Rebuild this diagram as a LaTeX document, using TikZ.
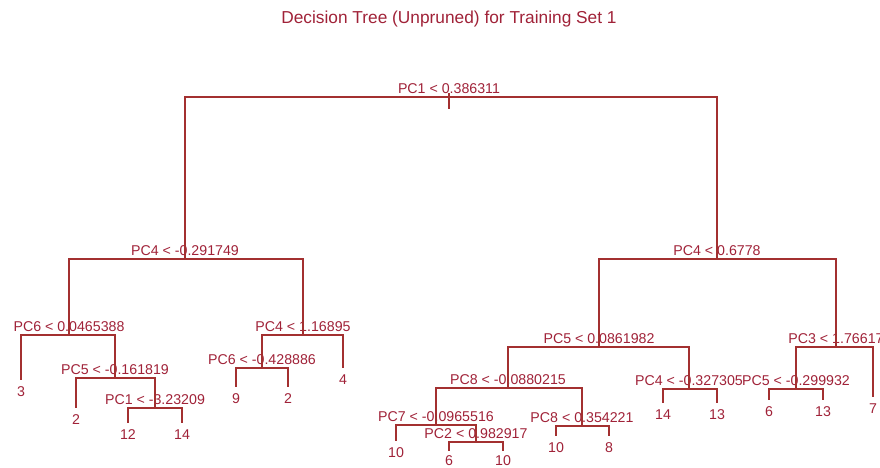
\documentclass[tikz,border=0pt]{standalone}
\usepackage{fontspec}
\setmainfont{Liberation Sans}
\definecolor{branch}{RGB}{163,48,48}
\definecolor{labelred}{RGB}{160,34,56}
\begin{document}
\begin{tikzpicture}[x=1pt,y=-1pt,
  edge/.style={draw=branch,line width=1.8pt},
  splitlabel/.style={text=labelred,font=\fontsize{14.2}{16}\selectfont,inner sep=0pt,anchor=base},
  leaflabel/.style={text=labelred,font=\fontsize{14.2}{16}\selectfont,inner sep=0pt,anchor=base},
  titlelabel/.style={text=labelred,font=\fontsize{17.3}{20}\selectfont,inner sep=0pt,anchor=base}]
\useasboundingbox (0,0) rectangle (880,468);

% title
\node[titlelabel] (title) at (449,24) {Decision Tree (Unpruned) for Training Set 1};

% split points (x of split, y of its horizontal bar)
\coordinate (R) at (449,97);
\coordinate (Rtop) at (449,93);
\coordinate (Rbot) at (449,109);
\coordinate (A) at (185,259);
\coordinate (B) at (69,335);
\coordinate (C) at (115,378);
\coordinate (D) at (155,408);
\coordinate (E) at (303,335);
\coordinate (F) at (262,368);
\coordinate (G) at (717,259);
\coordinate (H) at (599,347);
\coordinate (I) at (508,388);
\coordinate (J) at (436,425);
\coordinate (K) at (476,442);
\coordinate (L) at (582,426);
\coordinate (M) at (689,389);
\coordinate (N) at (836,347);
\coordinate (O) at (796,389);

% leaf ends
\coordinate (l1) at (21,380);
\coordinate (l2) at (76,408);
\coordinate (l3) at (128,423);
\coordinate (l4) at (182,423);
\coordinate (l5) at (236,387);
\coordinate (l6) at (288,387);
\coordinate (l7) at (343,368);
\coordinate (l8) at (396,441);
\coordinate (l9) at (449,451);
\coordinate (l10) at (503,451);
\coordinate (l11) at (556,436);
\coordinate (l12) at (609,436);
\coordinate (l13) at (663,403);
\coordinate (l14) at (717,403);
\coordinate (l15) at (769,400);
\coordinate (l16) at (823,400);
\coordinate (l17) at (873,397);

% split labels
\node[splitlabel] (tR) at (449,93.5) {PC1 < 0.386311};
\node[splitlabel] (tA) at (185,255.5) {PC4 < -0.291749};
\node[splitlabel] (tB) at (69,331.5) {PC6 < 0.0465388};
\node[splitlabel] (tC) at (115,374.5) {PC5 < -0.161819};
\node[splitlabel] (tD) at (155,404.5) {PC1 < -3.23209};
\node[splitlabel] (tE) at (303,331.5) {PC4 < 1.16895};
\node[splitlabel] (tF) at (262,364.5) {PC6 < -0.428886};
\node[splitlabel] (tG) at (717,255.5) {PC4 < 0.6778};
\node[splitlabel] (tH) at (599,343.5) {PC5 < 0.0861982};
\node[splitlabel] (tI) at (508,384.5) {PC8 < -0.0880215};
\node[splitlabel] (tJ) at (436,421.5) {PC7 < -0.0965516};
\node[splitlabel] (tK) at (476,438.5) {PC2 < 0.982917};
\node[splitlabel] (tL) at (582,422.5) {PC8 < 0.354221};
\node[splitlabel] (tM) at (689,385.5) {PC4 < -0.327305};
\node[splitlabel] (tN) at (836,343.5) {PC3 < 1.76617};
\node[splitlabel] (tO) at (796,385.5) {PC5 < -0.299932};

% leaf labels
\node[leaflabel] (t1) at (21,396) {3};
\node[leaflabel] (t2) at (76,424) {2};
\node[leaflabel] (t3) at (128,439) {12};
\node[leaflabel] (t4) at (182,439) {14};
\node[leaflabel] (t5) at (236,403) {9};
\node[leaflabel] (t6) at (288,403) {2};
\node[leaflabel] (t7) at (343,384) {4};
\node[leaflabel] (t8) at (396,457) {10};
\node[leaflabel] (t9) at (449,465.5) {6};
\node[leaflabel] (t10) at (503,465.5) {10};
\node[leaflabel] (t11) at (556,452) {10};
\node[leaflabel] (t12) at (609,452) {8};
\node[leaflabel] (t13) at (663,419) {14};
\node[leaflabel] (t14) at (717,419) {13};
\node[leaflabel] (t15) at (769,416) {6};
\node[leaflabel] (t16) at (823,416) {13};
\node[leaflabel] (t17) at (873,413) {7};

% branches
\draw[edge] (Rtop) -- (Rbot);
\draw[edge] (R) -| (A);
\draw[edge] (R) -| (G);
\draw[edge] (A) -| (B);
\draw[edge] (A) -| (E);
\draw[edge] (B) -| (l1);
\draw[edge] (B) -| (C);
\draw[edge] (C) -| (l2);
\draw[edge] (C) -| (D);
\draw[edge] (D) -| (l3);
\draw[edge] (D) -| (l4);
\draw[edge] (E) -| (F);
\draw[edge] (E) -| (l7);
\draw[edge] (F) -| (l5);
\draw[edge] (F) -| (l6);
\draw[edge] (G) -| (H);
\draw[edge] (G) -| (N);
\draw[edge] (H) -| (I);
\draw[edge] (H) -| (M);
\draw[edge] (I) -| (J);
\draw[edge] (I) -| (L);
\draw[edge] (J) -| (l8);
\draw[edge] (J) -| (K);
\draw[edge] (K) -| (l9);
\draw[edge] (K) -| (l10);
\draw[edge] (L) -| (l11);
\draw[edge] (L) -| (l12);
\draw[edge] (M) -| (l13);
\draw[edge] (M) -| (l14);
\draw[edge] (N) -| (O);
\draw[edge] (N) -| (l17);
\draw[edge] (O) -| (l15);
\draw[edge] (O) -| (l16);
\end{tikzpicture}
\end{document}
